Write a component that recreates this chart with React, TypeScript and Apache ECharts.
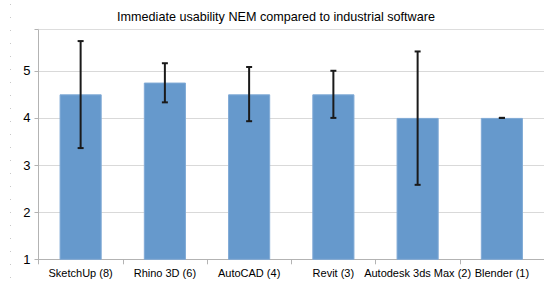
import React, { useEffect, useRef } from "react";
import * as echarts from "echarts";

const categories = ["SketchUp (8)", "Rhino 3D (6)", "AutoCAD (4)", "Revit (3)", "Autodesk 3ds Max (2)", "Blender (1)"];
const means = [4.5, 4.75, 4.5, 4.5, 4.0, 4.0];
const errLow = [3.36, 4.33, 3.93, 4.0, 2.58, 4.0];
const errHigh = [5.63, 5.16, 5.08, 5.0, 5.41, 4.0];
const yTicks = [1, 2, 3, 4, 5];

export default function App() {
  const ref = useRef<HTMLDivElement>(null);
  useEffect(() => {
    if (!ref.current) return;
    const chart = echarts.init(ref.current, undefined, { renderer: "svg" });
    const errData = categories.map((_, i) => [i, errLow[i], errHigh[i]]);
    chart.setOption({
      animation: false,
      backgroundColor: "#ffffff",
      textStyle: { fontFamily: "Liberation Sans" },
      title: {
        text: "Immediate usability NEM compared to industrial software",
        left: 271,
        top: 5,
        textAlign: "center",
        textStyle: { fontSize: 12.6, fontWeight: "normal", color: "#000", fontFamily: "Liberation Sans" },
      },
      graphic: [
        {
          type: "line",
          shape: { x1: 10.5, y1: 4, x2: 10.5, y2: 278 },
          style: { stroke: "#c8c8c8", lineWidth: 1, lineDash: [1, 12] },
          silent: true,
        },
      ],
      grid: { left: 38.5, right: -4.7, top: 29.3, bottom: 22.7, containLabel: false },
      xAxis: [
        {
          type: "category",
          data: categories,
          axisLine: { lineStyle: { color: "#b3b3b3" } },
          axisTick: { show: true, length: 5, lineStyle: { color: "#b3b3b3" } },
          axisLabel: { color: "#000", fontSize: 11, margin: 8, interval: 0, fontFamily: "Liberation Sans" },
        },
        {
          type: "category",
          data: categories,
          position: "top",
          axisLine: { lineStyle: { color: "#dddddd" } },
          axisTick: { show: false },
          axisLabel: { show: false },
        },
      ],
      yAxis: {
        type: "value",
        min: 1,
        max: 5.88,
        interval: 1,
        axisLine: { show: true, lineStyle: { color: "#b3b3b3" } },
        axisTick: { show: true, length: 4, lineStyle: { color: "#b3b3b3" } },
        splitLine: { lineStyle: { color: "#d9d9d9" } },
        axisLabel: {
          color: "#000",
          fontSize: 13,
          margin: 8,
          fontFamily: "Liberation Sans",
          formatter: (v: number) => (yTicks.includes(v) ? String(v) : ""),
        },
      },
      series: [
        {
          type: "bar",
          data: means,
          barWidth: "50%",
          itemStyle: { color: "#6699cc", borderColor: "#80aad6", borderWidth: 1 },
        },
        {
          type: "custom",
          data: errData,
          z: 10,
          renderItem: (params: any, api: any) => {
            const idx = api.value(0);
            const lo = api.coord([idx, api.value(1)]);
            const hi = api.coord([idx, api.value(2)]);
            const cap = 3;
            const style = { stroke: "#1a1a1a", lineWidth: 2 };
            return {
              type: "group",
              children: [
                { type: "line", shape: { x1: hi[0], y1: hi[1], x2: lo[0], y2: lo[1] }, style },
                { type: "line", shape: { x1: hi[0] - cap, y1: hi[1], x2: hi[0] + cap, y2: hi[1] }, style },
                { type: "line", shape: { x1: lo[0] - cap, y1: lo[1], x2: lo[0] + cap, y2: lo[1] }, style },
              ],
            };
          },
        },
      ],
    });
    return () => chart.dispose();
  }, []);
  return <div ref={ref} style={{ position: "fixed", left: 0, top: 0, width: 544, height: 282 }} />;
}
